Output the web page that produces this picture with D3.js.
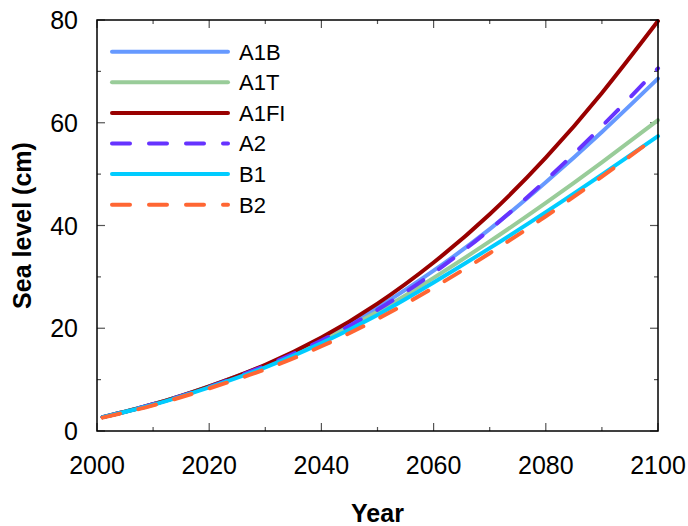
<!DOCTYPE html>
<html>
<head>
<meta charset="utf-8">
<script src="https://cdn.jsdelivr.net/npm/d3@7"></script>
<style>
  html, body { margin: 0; padding: 0; background: #fff; }
  svg { display: block; font-family: "Liberation Sans", Arial, sans-serif; }
</style>
</head>
<body>
<svg id="chart" width="688" height="526"></svg>
<script>
(function(){
'use strict';

// values (cm)
var years = [2001, 2010, 2020, 2030, 2040, 2050, 2060, 2070, 2080, 2090, 2100];
var seriesNames = ['A1B', 'A1T', 'A1FI', 'A2', 'B1', 'B2'];
var a1b  = [2.7, 5.2, 8.7, 12.8, 17.8, 24.0, 31.2, 39.3, 48.4, 58.2, 68.6];
var a1t  = [2.7, 5.2, 8.7, 12.7, 17.5, 23.2, 29.8, 36.9, 44.4, 52.3, 60.5];
var a1fi = [2.7, 5.2, 8.7, 12.9, 18.2, 24.8, 32.8, 42.2, 53.2, 65.8, 79.8];
var a2   = [2.7, 5.2, 8.6, 12.7, 17.6, 23.6, 30.8, 39.2, 48.8, 59.3, 70.6];
var b1   = [2.7, 5.1, 8.5, 12.4, 17.1, 22.6, 28.9, 35.6, 42.6, 49.9, 57.4];
var b2   = [2.6, 5.0, 8.3, 12.0, 16.5, 21.8, 27.9, 34.6, 41.8, 49.5, 57.5];
var xTicks = [2000, 2020, 2040, 2060, 2080, 2100];
var yTicks = [0, 20, 40, 60, 80];

var seriesValues = [a1b, a1t, a1fi, a2, b1, b2];
var colors = ['#6699ff', '#99cc99', '#990000', '#6633ff', '#00ccff', '#ff6633'];
var dashed = [false, false, false, true, false, true];

var margin = {left: 97, right: 30, top: 20, bottom: 95};
var width = 688, height = 526;

var svg = d3.select('#chart');

var x = d3.scaleLinear().domain([2000, 2100]).range([margin.left, width - margin.right]);
var y = d3.scaleLinear().domain([0, 80]).range([height - margin.bottom, margin.top]);

var x0 = x.range()[0], x1 = x.range()[1];
var y0 = y.range()[0], y1 = y.range()[1];

// ticks (inward, mirrored on all four sides)
var ticks = svg.append('g').attr('stroke', '#555').attr('stroke-width', 1.2);
d3.range(2000, 2101, 10).forEach(function(yr){
    var len = (yr % 20 === 0) ? 8 : 4;
    ticks.append('line').attr('x1', x(yr)).attr('x2', x(yr)).attr('y1', y0).attr('y2', y0 - len);
    ticks.append('line').attr('x1', x(yr)).attr('x2', x(yr)).attr('y1', y1).attr('y2', y1 + len);
});
d3.range(0, 81, 10).forEach(function(v){
    var len = (v % 20 === 0) ? 8 : 4;
    ticks.append('line').attr('x1', x0).attr('x2', x0 + len).attr('y1', y(v)).attr('y2', y(v));
    ticks.append('line').attr('x1', x1).attr('x2', x1 - len).attr('y1', y(v)).attr('y2', y(v));
});

// tick labels
svg.append('g').selectAll('text').data(xTicks).enter().append('text')
    .attr('x', function(d){ return x(d); })
    .attr('y', y0 + 43)
    .attr('text-anchor', 'middle')
    .attr('font-size', 25)
    .text(function(d){ return d; });

svg.append('g').selectAll('text').data(yTicks).enter().append('text')
    .attr('x', x0 - 19)
    .attr('y', function(d){ return y(d); })
    .attr('dy', '0.36em')
    .attr('text-anchor', 'end')
    .attr('font-size', 25)
    .text(function(d){ return d; });

// axis titles
svg.append('text')
    .attr('x', (x0 + x1) / 2)
    .attr('y', 522)
    .attr('text-anchor', 'middle')
    .attr('font-size', 25)
    .attr('font-weight', 'bold')
    .text('Year');

svg.append('text')
    .attr('transform', 'translate(31,' + ((y0 + y1) / 2) + ') rotate(-90)')
    .attr('text-anchor', 'middle')
    .attr('font-size', 25)
    .attr('font-weight', 'bold')
    .text('Sea level (cm)');

// series lines
var line = d3.line()
    .x(function(d){ return x(d[0]); })
    .y(function(d){ return y(d[1]); })
    .curve(d3.curveNatural);

var lines = svg.append('g').attr('fill', 'none');
seriesValues.forEach(function(vals, i){
    var pts = years.map(function(yr, j){ return [yr, vals[j]]; });
    lines.append('path')
        .attr('d', line(pts))
        .attr('stroke', colors[i])
        .attr('stroke-width', 4)
        .attr('stroke-linecap', 'round')
        .attr('stroke-dasharray', dashed[i] ? '18,19' : null);
});

// frame
svg.append('rect')
    .attr('x', x0).attr('y', y1)
    .attr('width', x1 - x0).attr('height', y0 - y1)
    .attr('fill', 'none')
    .attr('stroke', '#000')
    .attr('stroke-width', 1.5);

// legend
var legend = svg.append('g');
seriesNames.forEach(function(name, i){
    var ly = 51.7 + i * 30.6;
    legend.append('line')
        .attr('x1', 112).attr('x2', 228)
        .attr('y1', ly).attr('y2', ly)
        .attr('stroke', colors[i])
        .attr('stroke-width', 4)
        .attr('stroke-linecap', 'round')
        .attr('stroke-dasharray', dashed[i] ? '18,19' : null);
    legend.append('text')
        .attr('x', 239)
        .attr('y', ly)
        .attr('dy', '0.36em')
        .attr('font-size', 22)
        .text(name);
});

})();
</script>
</body>
</html>
